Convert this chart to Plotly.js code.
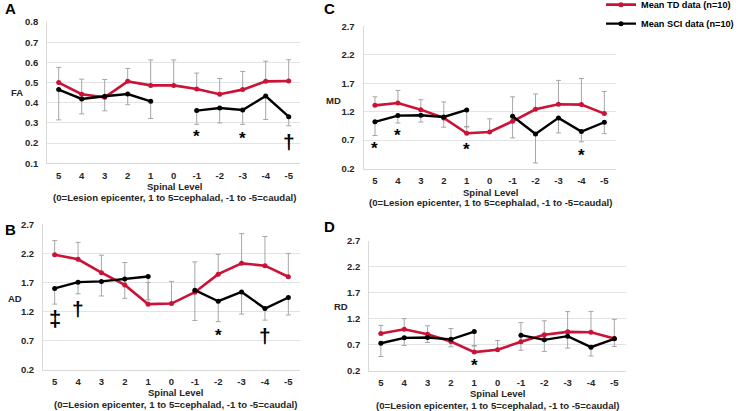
<!DOCTYPE html>
<html>
<head>
<meta charset="utf-8">
<script src="https://cdn.plot.ly/plotly-3.0.1.min.js"></script>
<style>html,body{margin:0;padding:0;background:#fff;}#chart{width:741px;height:411px;}</style>
</head>
<body>
<div id="chart"></div>
<script>
// ---- data ----
const levels = ['5','4','3','2','1','0','-1','-2','-3','-4','-5'];

const FA_TD      = [0.500,0.442,0.427,0.506,0.486,0.486,0.468,0.442,0.465,0.506,0.508];
const FA_TD_err  = [0.075,0.075,0.088,0.064,0.126,0.126,0.079,0.078,0.090,0.100,0.105];
const FA_SCI     = [0.465,0.419,0.432,0.443,0.407,null,0.361,0.374,0.364,0.433,0.331];
const FA_SCI_err = [0.150,0.074,0.072,0.053,0.085,null,0.068,0.074,0.071,0.116,0.045];

const AD_TD      = [2.177,2.100,1.870,1.660,1.330,1.340,1.535,1.845,2.030,1.990,1.800];
const AD_TD_err  = [0.243,0.290,0.300,0.385,0.370,0.380,0.520,0.340,0.510,0.500,0.400];
const AD_SCI     = [1.600,1.707,1.720,1.760,1.805,null,1.570,1.380,1.540,1.255,1.444];
const AD_SCI_err = [0.270,0.200,0.250,0.330,0.400,null,0.520,0.350,0.380,0.200,0.300];

const MD_TD      = [1.310,1.352,1.235,1.090,0.820,0.843,1.030,1.240,1.329,1.323,1.165];
const MD_TD_err  = [0.150,0.220,0.175,0.280,0.120,0.230,0.430,0.270,0.420,0.460,0.390];
const MD_SCI     = [1.020,1.130,1.136,1.106,1.230,null,1.118,0.808,1.090,0.849,1.013];
const MD_SCI_err = [0.240,0.130,0.120,0.180,0.300,null,0.380,0.510,0.265,0.180,0.200];

const RD_TD      = [0.912,0.995,0.900,0.759,0.554,0.600,0.752,0.887,0.944,0.938,0.816];
const RD_TD_err  = [0.157,0.205,0.160,0.250,0.125,0.178,0.370,0.270,0.390,0.400,0.370];
const RD_SCI     = [0.725,0.829,0.836,0.800,0.950,null,0.880,0.791,0.861,0.650,0.810];
const RD_SCI_err = [0.256,0.147,0.096,0.143,0.280,null,0.290,0.224,0.230,0.170,0.147];

const ticksFA = [0.1,0.2,0.3,0.4,0.5,0.6,0.7,0.8];
const ticksDiff = [0.2,0.7,1.2,1.7,2.2,2.7];

// significance marks: [panel, level, yValue, symbol]
const marks = [
  ['A','-1',0.26,'*'],['A','-3',0.25,'*'],['A','-5',0.21,'†'],
  ['B','5',1.09,'‡'],['B','4',1.26,'†'],['B','-2',0.886,'*'],['B','-4',0.80,'†'],
  ['C','5',0.637,'*'],['C','4',0.87,'*'],['C','1',0.63,'*'],['C','-4',0.515,'*'],
  ['D','1',0.39,'*']
];

// ---- styling ----
const RED = '#cc1236', BLACK = '#000000', GREY = '#a6a6a6';
const FONT = 'Liberation Sans, Arial, sans-serif';
const W = 741, H = 411;
const px = v => v / W, py = v => 1 - v / H;

const panels = [
  {id:'A', ax:'', td:FA_TD, tdE:FA_TD_err, sci:FA_SCI, sciE:FA_SCI_err, ticks:ticksFA, range:[0.1,0.8], dx:[47.2,300.2], dy:[22,163.3], title:'FA', tpos:[17,92.7], lpos:[3,9], xt:[174,186,197]},
  {id:'B', ax:'2', td:AD_TD, tdE:AD_TD_err, sci:AD_SCI, sciE:AD_SCI_err, ticks:ticksDiff, range:[0.2,2.7], dx:[43,300], dy:[224.3,370], title:'AD', tpos:[15,298], lpos:[3,229], xt:[175,392.7,404]},
  {id:'C', ax:'3', td:MD_TD, tdE:MD_TD_err, sci:MD_SCI, sciE:MD_SCI_err, ticks:ticksDiff, range:[0.2,2.7], dx:[363.5,615.8], dy:[26.3,168.5], title:'MD', tpos:[333.5,100], lpos:[322,9], xt:[490.5,192,202.5]},
  {id:'D', ax:'4', td:RD_TD, tdE:RD_TD_err, sci:RD_SCI, sciE:RD_SCI_err, ticks:ticksDiff, range:[0.2,2.7], dx:[369.2,626], dy:[240.7,370.5], title:'RD', tpos:[341,306], lpos:[322,226.5], xt:[497.5,393.3,405]}
];

const zeros = levels.map(() => 0);
const traces = [];
const layout = {
  width: W, height: H,
  margin: {l:0, r:0, t:0, b:0, pad:0, autoexpand: false},
  paper_bgcolor: '#fff', plot_bgcolor: '#fff',
  font: {family: FONT, size: 9.5, color: '#262626', weight: 'bold'},
  showlegend: true,
  legend: {x: px(601), y: 1.024, xanchor: 'left', yanchor: 'top', bgcolor: 'rgba(0,0,0,0)',
           font: {family: FONT, size: 9.2, color: '#000', weight: 'bold'}, tracegroupgap: 0, itemclick: false},
  annotations: [],
  hovermode: false
};

panels.forEach((p, i) => {
  const xa = 'x' + p.ax, ya = 'y' + p.ax;
  // error bars (beneath lines)
  traces.push({x: levels, y: p.td, xaxis: xa, yaxis: ya, type: 'scatter', mode: 'markers',
    marker: {size: 1, opacity: 0}, showlegend: false, hoverinfo: 'skip',
    error_y: {type: 'data', symmetric: false, array: p.tdE, arrayminus: zeros, color: GREY, thickness: 1, width: 2.5}});
  traces.push({x: levels, y: p.sci, xaxis: xa, yaxis: ya, type: 'scatter', mode: 'markers',
    marker: {size: 1, opacity: 0}, showlegend: false, hoverinfo: 'skip',
    error_y: {type: 'data', symmetric: false, array: zeros, arrayminus: p.sciE, color: GREY, thickness: 1, width: 2.5}});
  // lines
  traces.push({x: levels, y: p.td, xaxis: xa, yaxis: ya, type: 'scatter', mode: 'lines+markers',
    name: 'Mean TD data (n=10)', showlegend: i === 0,
    line: {color: RED, width: 2.6}, marker: {color: RED, size: 5}});
  traces.push({x: levels, y: p.sci, xaxis: xa, yaxis: ya, type: 'scatter', mode: 'lines+markers',
    name: 'Mean SCI data (n=10)', showlegend: i === 0, connectgaps: false,
    line: {color: BLACK, width: 2.4}, marker: {color: BLACK, size: 5}});

  layout['xaxis' + p.ax] = {
    domain: [px(p.dx[0]), px(p.dx[1])], anchor: ya, type: 'category',
    categoryorder: 'array', categoryarray: levels, range: [-0.5, 10.5],
    showgrid: false, zeroline: false, showline: true, linecolor: '#d9d9d9', linewidth: 1,
    ticks: '', ticklabelstandoff: 3, fixedrange: true, automargin: false,
    tickfont: {family: FONT, size: 9.5, color: '#262626', weight: 'bold'}
  };
  layout['yaxis' + p.ax] = {
    domain: [py(p.dy[1]), py(p.dy[0])], anchor: xa, range: p.range,
    tickmode: 'array', tickvals: p.ticks, ticktext: p.ticks.map(v => v.toFixed(1)),
    showgrid: true, gridcolor: '#e3e3e3', gridwidth: 1, zeroline: false,
    showline: true, linecolor: '#d9d9d9', linewidth: 1,
    ticks: '', ticklabelstandoff: 6, fixedrange: true, automargin: false,
    tickfont: {family: FONT, size: 9.5, color: '#262626', weight: 'bold'}
  };

  const A = layout.annotations;
  A.push({xref: 'paper', yref: 'paper', x: px(p.lpos[0]), y: py(p.lpos[1]), xanchor: 'left', yanchor: 'middle',
    text: p.id, showarrow: false, font: {family: FONT, size: 15, color: '#000', weight: 'bold'}});
  A.push({xref: 'paper', yref: 'paper', x: px(p.tpos[0]), y: py(p.tpos[1]), xanchor: 'center', yanchor: 'middle',
    text: p.title, showarrow: false, font: {family: FONT, size: 9.5, color: '#262626', weight: 'bold'}});
  A.push({xref: 'paper', yref: 'paper', x: px(p.xt[0]), y: py(p.xt[1]), xanchor: 'center', yanchor: 'middle',
    text: 'Spinal Level', showarrow: false, font: {family: FONT, size: 9.5, color: '#262626', weight: 'bold'}});
  A.push({xref: 'paper', yref: 'paper', x: px(p.xt[0]), y: py(p.xt[2]), xanchor: 'center', yanchor: 'middle',
    text: '(0=Lesion epicenter, 1 to 5=cephalad, -1 to -5=caudal)', showarrow: false,
    font: {family: FONT, size: 9.6, color: '#262626', weight: 'bold'}});

  marks.filter(m => m[0] === p.id).forEach(m => {
    const star = m[3] === '*';
    A.push({xref: xa, yref: ya, x: levels.indexOf(m[1]), y: m[2], xanchor: 'center', yanchor: 'middle',
      text: m[3], showarrow: false, yshift: star ? -5 : 0,
      font: {family: FONT, size: star ? 17 : (m[3] === '‡' ? 22 : 21), color: '#000'}});
  });
});

Plotly.newPlot('chart', traces, layout, {staticPlot: true, displayModeBar: false});
</script>
</body>
</html>
